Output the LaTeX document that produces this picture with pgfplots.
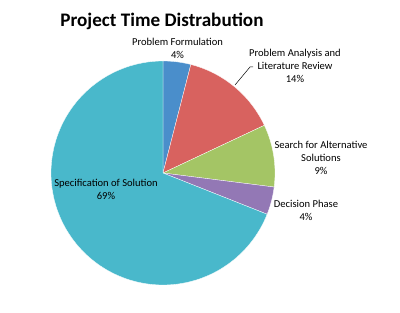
\documentclass[border=0pt]{standalone}
\usepackage{pgfplots}
\pgfplotsset{compat=1.18}
\usepackage{fontspec}
\setmainfont{Carlito}
\definecolor{cBlue}{HTML}{4A8ECB}
\definecolor{cRed}{HTML}{D8625F}
\definecolor{cGreen}{HTML}{A4C565}
\definecolor{cPurple}{HTML}{9378B5}
\definecolor{cCyan}{HTML}{49B8CB}
% shares (percent), clockwise from 12 o'clock
\def\vA{4}  % Problem Formulation
\def\vB{14} % Problem Analysis and Literature Review
\def\vC{9}  % Search for Alternative Solutions
\def\vD{4}  % Decision Phase
\def\vE{69} % Specification of Solution
\begin{document}
\begin{tikzpicture}
\pgfmathsetmacro\aA{90}
\pgfmathsetmacro\aB{\aA-3.6*\vA}
\pgfmathsetmacro\aC{\aB-3.6*\vB}
\pgfmathsetmacro\aD{\aC-3.6*\vC}
\pgfmathsetmacro\aE{\aD-3.6*\vD}
\pgfmathsetmacro\aF{\aE-3.6*\vE}
\begin{axis}[
  width=400bp, height=313bp, scale only axis,
  xmin=0, xmax=400, ymin=0, ymax=313,
  hide axis, clip=false,
]
\path (axis cs:0,0) rectangle (axis cs:400,313);
\def\cx{163}\def\cy{140}\def\R{112}
\addplot[fill=cBlue, draw=white, line width=0.3pt, domain=\aB:\aA, samples=20, variable=\t] ({\cx+\R*cos(\t)},{\cy+\R*sin(\t)}) -- (axis cs:\cx,\cy) -- cycle;
\addplot[fill=cRed, draw=white, line width=0.3pt, domain=\aC:\aB, samples=40, variable=\t] ({\cx+\R*cos(\t)},{\cy+\R*sin(\t)}) -- (axis cs:\cx,\cy) -- cycle;
\addplot[fill=cGreen, draw=white, line width=0.3pt, domain=\aD:\aC, samples=30, variable=\t] ({\cx+\R*cos(\t)},{\cy+\R*sin(\t)}) -- (axis cs:\cx,\cy) -- cycle;
\addplot[fill=cPurple, draw=white, line width=0.3pt, domain=\aE:\aD, samples=20, variable=\t] ({\cx+\R*cos(\t)},{\cy+\R*sin(\t)}) -- (axis cs:\cx,\cy) -- cycle;
\addplot[fill=cCyan, draw=white, line width=0.3pt, domain=\aF:\aE, samples=120, variable=\t] ({\cx+\R*cos(\t)},{\cy+\R*sin(\t)}) -- (axis cs:\cx,\cy) -- cycle;
\draw[black, line width=0.5pt] (axis cs:235,228) -- (axis cs:250,246) -- (axis cs:253,246);
\node[font=\bfseries\fontsize{19.2}{22}\selectfont] at (axis cs:162,292) {Project Time Distrabution};
\node[font=\fontsize{10.6}{13}\selectfont, align=center] at (axis cs:177.5,265) {Problem Formulation\\4\%};
\node[font=\fontsize{10.6}{13}\selectfont, align=center] at (axis cs:295,247) {Problem Analysis and\\Literature Review\\14\%};
\node[font=\fontsize{10.6}{13}\selectfont, align=center] at (axis cs:321,155) {Search for Alternative\\Solutions\\9\%};
\node[font=\fontsize{10.6}{13}\selectfont, align=center] at (axis cs:306,103) {Decision Phase\\4\%};
\node[font=\fontsize{10.6}{13}\selectfont, align=center] at (axis cs:106,124) {Specification of Solution\\69\%};
\end{axis}
\end{tikzpicture}
\end{document}
